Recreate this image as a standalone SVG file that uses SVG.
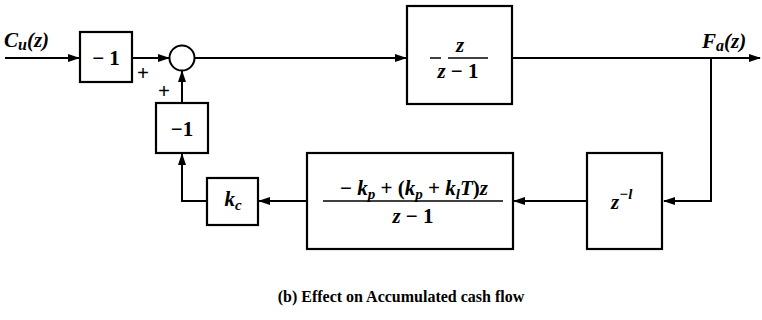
<svg xmlns="http://www.w3.org/2000/svg" width="762" height="320" viewBox="0 0 762 320">
<defs>
<marker id="ah" markerWidth="12" markerHeight="10" refX="11" refY="5" orient="auto" markerUnits="userSpaceOnUse">
<path d="M0,1 L12,5 L0,9 Z" fill="#000"/>
</marker>
<style>
.box{fill:#fff;stroke:#000;stroke-width:2.2}
.ln{fill:none;stroke:#000;stroke-width:2}
</style>
</defs>
<rect width="762" height="320" fill="#fff"/>
<g id="connectors">
<line class="ln" x1="5" y1="58" x2="79" y2="58" marker-end="url(#ah)"/>
<line class="ln" x1="132" y1="58" x2="169" y2="58" marker-end="url(#ah)"/>
<line class="ln" x1="195" y1="58" x2="406" y2="58" marker-end="url(#ah)"/>
<line class="ln" x1="512" y1="58" x2="760" y2="58" marker-end="url(#ah)"/>
<polyline class="ln" points="711,58 711,201 664,201" marker-end="url(#ah)"/>
<line class="ln" x1="587" y1="201" x2="514" y2="201" marker-end="url(#ah)"/>
<line class="ln" x1="307" y1="201" x2="259" y2="201" marker-end="url(#ah)"/>
<polyline class="ln" points="207,201 182,201 182,154" marker-end="url(#ah)"/>
<line class="ln" x1="182" y1="103" x2="182" y2="71" marker-end="url(#ah)"/>
</g>
<g id="input-label"><text style="font-family:'Liberation Serif',serif;font-size:21px;font-weight:bold;font-style:italic" x="4" y="47">C<tspan style="font-size:16px" dy="3">u</tspan><tspan dy="-3">(z)</tspan></text></g>
<g id="gain1">
<rect class="box" x="80" y="32" width="52" height="50"/>
<text style="font-family:'Liberation Serif',serif;font-size:21px;font-weight:bold" x="106" y="65" text-anchor="middle">− 1</text>
</g>
<g id="plus1"><text style="font-family:'Liberation Serif',serif;font-size:21px;font-weight:bold" x="143" y="80" text-anchor="middle">+</text></g>
<g id="plus2"><text style="font-family:'Liberation Serif',serif;font-size:21px;font-weight:bold" x="164" y="98" text-anchor="middle">+</text></g>
<g id="sum"><circle cx="182" cy="58" r="12.5" fill="#fff" stroke="#000" stroke-width="2"/></g>
<g id="integrator">
<rect class="box" x="407" y="6" width="105" height="98"/>
<line x1="430" y1="58" x2="441" y2="58" stroke="#000" stroke-width="1.5"/>
<line x1="448" y1="58" x2="488" y2="58" stroke="#000" stroke-width="1.5"/>
<text style="font-family:'Liberation Serif',serif;font-size:21px;font-weight:bold;font-style:italic" x="460" y="52" text-anchor="middle">z</text>
<text style="font-family:'Liberation Serif',serif;font-size:21px;font-weight:bold;font-style:italic" x="458" y="78" text-anchor="middle">z<tspan style="font-style:normal"> − 1</tspan></text>
</g>
<g id="output-label"><text style="font-family:'Liberation Serif',serif;font-size:21px;font-weight:bold;font-style:italic" x="702" y="48">F<tspan style="font-size:16px" dy="3">a</tspan><tspan dy="-3">(z)</tspan></text></g>
<g id="delay">
<rect class="box" x="587" y="153" width="75" height="96"/>
<text style="font-family:'Liberation Serif',serif;font-size:21px;font-weight:bold;font-style:italic" x="611" y="209">z<tspan style="font-size:15px" dy="-10">−l</tspan></text>
</g>
<g id="controller">
<rect class="box" x="307" y="153" width="206" height="96"/>
<text style="font-family:'Liberation Serif',serif;font-size:21px;font-weight:bold;font-style:italic" x="414" y="195" text-anchor="middle"><tspan style="font-style:normal">− </tspan>k<tspan style="font-size:15px" dy="4">p</tspan><tspan dy="-4" style="font-style:normal"> + (</tspan>k<tspan style="font-size:15px" dy="4">p</tspan><tspan dy="-4" style="font-style:normal"> + </tspan>k<tspan style="font-size:15px" dy="4">l</tspan><tspan dy="-4">T</tspan><tspan style="font-style:normal">)</tspan>z</text>
<line x1="323" y1="201" x2="503" y2="201" stroke="#000" stroke-width="1.5"/>
<text style="font-family:'Liberation Serif',serif;font-size:21px;font-weight:bold;font-style:italic" x="413" y="223" text-anchor="middle">z<tspan style="font-style:normal"> − 1</tspan></text>
</g>
<g id="gain-kc">
<rect class="box" x="207" y="178" width="51" height="47"/>
<text style="font-family:'Liberation Serif',serif;font-size:21px;font-weight:bold;font-style:italic" x="233" y="206" text-anchor="middle">k<tspan style="font-size:15px" dy="4">c</tspan></text>
</g>
<g id="gain2">
<rect class="box" x="156" y="103" width="52" height="50"/>
<text style="font-family:'Liberation Serif',serif;font-size:21px;font-weight:bold" x="182" y="136" text-anchor="middle">−1</text>
</g>
<g id="caption"><text style="font-family:'Liberation Serif',serif;font-size:16px;font-weight:bold" x="401" y="302" text-anchor="middle">(b) Effect on Accumulated cash flow</text></g>
</svg>
